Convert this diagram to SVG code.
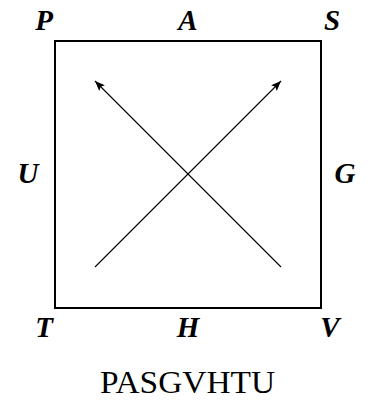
<svg xmlns="http://www.w3.org/2000/svg" width="369" height="400" viewBox="0 0 369 400">
<style>
.lbl{font-family:"Liberation Serif","Times New Roman",serif;font-weight:bold;font-style:italic;font-size:29px;text-anchor:middle;fill:#000}
.cap{font-family:"Liberation Serif","Times New Roman",serif;font-size:31px;text-anchor:middle;fill:#000}
.arr{stroke:#000;stroke-width:1.1;fill:none;marker-end:url(#ah)}
</style>
<defs>
<marker id="ah" viewBox="0 0 10 8" refX="10" refY="4" markerWidth="10" markerHeight="8" markerUnits="userSpaceOnUse" orient="auto">
<path d="M0,0 L10,4 L0,8 L2,4 Z" fill="#000"/>
</marker>
</defs>
<rect width="369" height="400" fill="#fff"/>
<g id="square"><rect x="55" y="41" width="266" height="267" fill="none" stroke="#000" stroke-width="2"/></g>
<g id="connectors">
<line class="arr" x1="95" y1="267" x2="281" y2="81"/>
<line class="arr" x1="281" y1="267" x2="95" y2="81"/>
</g>
<g id="P"><text class="lbl" x="44" y="30">P</text></g>
<g id="A"><text class="lbl" x="188" y="30">A</text></g>
<g id="S"><text class="lbl" x="332" y="30">S</text></g>
<g id="U"><text class="lbl" x="28" y="183">U</text></g>
<g id="G"><text class="lbl" x="345" y="183">G</text></g>
<g id="T"><text class="lbl" x="44" y="337">T</text></g>
<g id="H"><text class="lbl" x="188" y="337">H</text></g>
<g id="V"><text class="lbl" x="330" y="337">V</text></g>
<g id="caption"><text class="cap" x="187.5" y="393" textLength="175" lengthAdjust="spacingAndGlyphs">PASGVHTU</text></g>
</svg>
